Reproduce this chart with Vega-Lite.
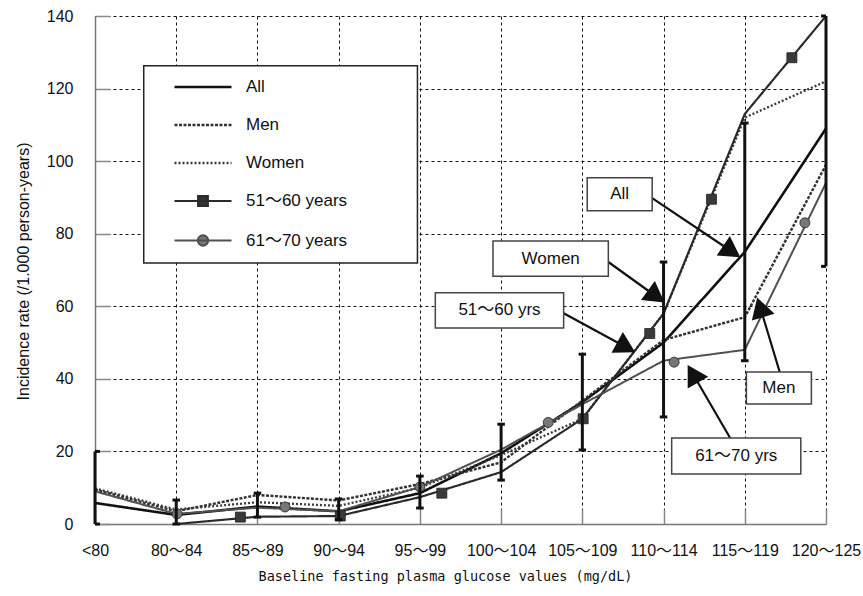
{
  "$schema": "https://vega.github.io/schema/vega-lite/v6.json",
  "width": 731,
  "height": 508,
  "autosize": "none",
  "padding": {"left": 95, "top": 16, "right": 37, "bottom": 72},
  "background": "white",
  "config": {
    "view": {"stroke": null},
    "font": "Liberation Sans",
    "axis": {
      "domainColor": "#777",
      "domainWidth": 1.5,
      "grid": true,
      "gridColor": "#111",
      "gridDash": [3, 3],
      "gridWidth": 1,
      "tickColor": "#888",
      "tickWidth": 1.5,
      "tickSize": -15,
      "labelColor": "#111",
      "labelFont": "Liberation Sans, Noto Sans CJK JP",
      "labelFontSize": 16,
      "titleColor": "#111",
      "titleFontWeight": "normal"
    }
  },
  "datasets": {
    "rates": [
      {"series": "All", "idx": 0, "rate": 5.8},
      {"series": "All", "idx": 1, "rate": 2.5},
      {"series": "All", "idx": 2, "rate": 4.8},
      {"series": "All", "idx": 3, "rate": 3.5},
      {"series": "All", "idx": 4, "rate": 8.5},
      {"series": "All", "idx": 5, "rate": 19.5},
      {"series": "All", "idx": 6, "rate": 33.6},
      {"series": "All", "idx": 7, "rate": 50},
      {"series": "All", "idx": 8, "rate": 75},
      {"series": "All", "idx": 9, "rate": 109},
      {"series": "Men", "idx": 0, "rate": 9.5},
      {"series": "Men", "idx": 1, "rate": 3.5},
      {"series": "Men", "idx": 2, "rate": 8},
      {"series": "Men", "idx": 3, "rate": 6.5},
      {"series": "Men", "idx": 4, "rate": 11},
      {"series": "Men", "idx": 5, "rate": 17},
      {"series": "Men", "idx": 6, "rate": 34},
      {"series": "Men", "idx": 7, "rate": 50.7},
      {"series": "Men", "idx": 8, "rate": 57},
      {"series": "Men", "idx": 9, "rate": 99},
      {"series": "Women", "idx": 0, "rate": 9.8},
      {"series": "Women", "idx": 1, "rate": 4},
      {"series": "Women", "idx": 2, "rate": 6},
      {"series": "Women", "idx": 3, "rate": 5},
      {"series": "Women", "idx": 4, "rate": 10},
      {"series": "Women", "idx": 5, "rate": 19},
      {"series": "Women", "idx": 6, "rate": 29},
      {"series": "Women", "idx": 7, "rate": 58},
      {"series": "Women", "idx": 8, "rate": 112},
      {"series": "Women", "idx": 9, "rate": 122},
      {"series": "51～60 years", "idx": 1, "rate": 0},
      {"series": "51～60 years", "idx": 2, "rate": 2},
      {"series": "51～60 years", "idx": 3, "rate": 2.2},
      {"series": "51～60 years", "idx": 4, "rate": 7.4},
      {"series": "51～60 years", "idx": 5, "rate": 14.3},
      {"series": "51～60 years", "idx": 6, "rate": 29},
      {"series": "51～60 years", "idx": 7, "rate": 58},
      {"series": "51～60 years", "idx": 8, "rate": 113},
      {"series": "51～60 years", "idx": 9, "rate": 140},
      {"series": "61～70 years", "idx": 0, "rate": 9},
      {"series": "61～70 years", "idx": 1, "rate": 2.8},
      {"series": "61～70 years", "idx": 2, "rate": 4.5},
      {"series": "61～70 years", "idx": 3, "rate": 3.5},
      {"series": "61～70 years", "idx": 4, "rate": 10.2},
      {"series": "61～70 years", "idx": 5, "rate": 20.5},
      {"series": "61～70 years", "idx": 6, "rate": 33},
      {"series": "61～70 years", "idx": 7, "rate": 45},
      {"series": "61～70 years", "idx": 8, "rate": 48},
      {"series": "61～70 years", "idx": 9, "rate": 94}
    ],
    "markers": [
      {"series": "51～60 years", "idx": 1.79, "rate": 1.9},
      {"series": "51～60 years", "idx": 3.02, "rate": 2.2},
      {"series": "51～60 years", "idx": 4.27, "rate": 8.5},
      {"series": "51～60 years", "idx": 6.01, "rate": 29},
      {"series": "51～60 years", "idx": 6.83, "rate": 52.5},
      {"series": "51～60 years", "idx": 7.59, "rate": 89.5},
      {"series": "51～60 years", "idx": 8.58, "rate": 128.5},
      {"series": "61～70 years", "idx": 1.01, "rate": 2.8},
      {"series": "61～70 years", "idx": 2.34, "rate": 4.7},
      {"series": "61～70 years", "idx": 4.0, "rate": 10.2},
      {"series": "61～70 years", "idx": 5.58, "rate": 28},
      {"series": "61～70 years", "idx": 7.13, "rate": 44.6},
      {"series": "61～70 years", "idx": 8.74, "rate": 83}
    ],
    "ci": [
      {"idx": 0, "rate": 0, "rate2": 20},
      {"idx": 1, "rate": 0, "rate2": 6.6},
      {"idx": 2, "rate": 1.9, "rate2": 8.5},
      {"idx": 3, "rate": 1.2, "rate2": 6.9},
      {"idx": 4, "rate": 4.4, "rate2": 13.2},
      {"idx": 5, "rate": 12.1, "rate2": 27.5},
      {"idx": 6, "rate": 20.4, "rate2": 46.8},
      {"idx": 7, "rate": 29.5, "rate2": 72.2},
      {"idx": 8, "rate": 45, "rate2": 110.5},
      {"idx": 9, "rate": 71, "rate2": 140}
    ],
    "legendframe": [
      {"idx": 0.6, "idx2": 3.97, "rate": 126.3, "rate2": 71.9}
    ],
    "callouts": [
      {"label": "All", "idx": 6.06, "idx2": 6.86, "rate": 95.4, "rate2": 86.3},
      {"label": "Women", "idx": 4.9, "idx2": 6.32, "rate": 78.0, "rate2": 68.3},
      {"label": "51～60 yrs", "idx": 4.19, "idx2": 5.77, "rate": 63.7, "rate2": 54.0},
      {"label": "Men", "idx": 8.02, "idx2": 8.82, "rate": 41.9, "rate2": 33.1},
      {"label": "61～70 yrs", "idx": 7.1, "idx2": 8.69, "rate": 23.7, "rate2": 13.8}
    ],
    "arrows": [
      {"label": "All", "idx": 6.86, "rate": 89.8, "idx2": 7.84, "rate2": 75.1},
      {"label": "Women", "idx": 6.32, "rate": 72.2, "idx2": 6.91, "rate2": 62.7},
      {"label": "51～60 yrs", "idx": 5.77, "rate": 58.1, "idx2": 6.54, "rate2": 48.7},
      {"label": "Men", "idx": 8.43, "rate": 41.9, "idx2": 8.19, "rate2": 59.7},
      {"label": "61～70 yrs", "idx": 7.82, "rate": 23.7, "idx2": 7.36, "rate2": 41.4}
    ]
  },
  "encoding": {
    "x": {
      "field": "idx",
      "type": "quantitative",
      "scale": {"domain": [0, 9], "nice": false, "zero": false},
      "axis": {
        "values": [0, 1, 2, 3, 4, 5, 6, 7, 8, 9],
        "labelExpr": "['<80','80～84','85～89','90～94','95～99','100～104','105～109','110～114','115～119','120～125'][datum.value]",
        "labelPadding": 33,
        "labelFlush": false,
        "title": "Baseline fasting plasma glucose values (mg/dL)",
        "titleFont": "DejaVu Sans Mono",
        "titleFontSize": 13.5,
        "titleX": 350,
        "titleY": 52,
        "titleBaseline": "middle"
      }
    },
    "y": {
      "field": "rate",
      "type": "quantitative",
      "scale": {"domain": [0, 140], "nice": false},
      "axis": {
        "values": [0, 20, 40, 60, 80, 100, 120, 140],
        "labelPadding": 37,
        "title": "Incidence rate (/1.000 person-years)",
        "titleFont": "Liberation Sans",
        "titleFontSize": 16,
        "titleX": -72,
        "titleY": 255,
        "titleAngle": -90,
        "titleAlign": "center",
        "titleBaseline": "middle"
      }
    }
  },
  "layer": [
    {
      "data": {"name": "legendframe"},
      "mark": {"type": "rect", "fill": "white", "stroke": "#222", "strokeWidth": 1.5},
      "encoding": {
        "x2": {"field": "idx2"},
        "y2": {"field": "rate2"}
      }
    },
    {
      "data": {"name": "rates"},
      "mark": {"type": "line", "strokeCap": "butt"},
      "encoding": {
        "strokeDash": {
          "field": "series",
          "type": "nominal",
          "scale": {
            "domain": ["All", "Men", "Women", "51～60 years", "61～70 years"],
            "range": [[1, 0], [3, 1.5], [2, 2], [1, 0], [1, 0]]
          },
          "legend": {
            "title": null,
            "orient": "none",
            "legendX": 78,
            "legendY": 41,
            "symbolType": "stroke",
            "symbolSize": 3249,
            "symbolStrokeWidth": 2,
            "labelFont": "Liberation Sans, Noto Sans CJK JP",
            "labelFontSize": 17,
            "labelColor": "#111",
            "labelOffset": 13,
            "rowPadding": 0,
            "padding": 0,
            "encode": {
              "symbols": {
                "update": {
                  "shape": {"signal": "datum.value === '51～60 years' ? 'M-1,0H1M-0.17,-0.17H0.17V0.17H-0.17Z' : datum.value === '61～70 years' ? 'M-1,0H1M-0.18,0A0.18,0.18 0 1,0 0.18,0A0.18,0.18 0 1,0 -0.18,0Z' : 'stroke'"},
                  "fill": {"signal": "datum.value === '51～60 years' ? '#333' : datum.value === '61～70 years' ? '#777' : 'transparent'"},
                  "stroke": {"signal": "datum.value === 'All' ? '#111' : datum.value === 'Men' ? '#333' : datum.value === 'Women' ? '#3a3a3a' : '#333'"},
                  "strokeWidth": {"signal": "datum.value === 'All' ? 2.6 : datum.value === 'Women' ? 3 : datum.value === 'Men' ? 2 : 1.6"}
                }
              }
            }
          }
        },
        "color": {
          "field": "series",
          "type": "nominal",
          "scale": {
            "domain": ["All", "Men", "Women", "51～60 years", "61～70 years"],
            "range": ["#111", "#333", "#3a3a3a", "#2a2a2a", "#505050"]
          }
        },
        "strokeWidth": {
          "field": "series",
          "type": "nominal",
          "scale": {
            "domain": ["All", "Men", "Women", "51～60 years", "61～70 years"],
            "range": [2.6, 2, 3, 1.6, 1.6]
          }
        }
      }
    },
    {
      "data": {"name": "markers"},
      "mark": {"type": "point", "filled": true, "opacity": 1, "size": 100, "stroke": "#222", "strokeWidth": 0.8},
      "encoding": {
        "shape": {
          "field": "series",
          "type": "nominal",
          "scale": {"domain": ["51～60 years", "61～70 years"], "range": ["square", "circle"]},
          "legend": null
        },
        "fill": {
          "field": "series",
          "type": "nominal",
          "scale": {"domain": ["51～60 years", "61～70 years"], "range": ["#3a3a3a", "#777"]},
          "legend": null
        }
      }
    },
    {
      "data": {"name": "ci"},
      "mark": {"type": "rule", "stroke": "#111", "strokeWidth": 3},
      "encoding": {
        "y2": {"field": "rate2"}
      }
    },
    {
      "data": {"name": "ci"},
      "transform": [{"fold": ["rate", "rate2"], "as": ["end", "bound"]}],
      "mark": {"type": "point", "filled": false, "opacity": 1, "stroke": "#111", "strokeWidth": 3, "size": 324},
      "encoding": {
        "y": {"field": "bound", "type": "quantitative"},
        "shape": {
          "condition": [
            {"test": "datum.idx == 0", "value": "M0,0H0.55"},
            {"test": "datum.idx == 9", "value": "M-0.55,0H0"}
          ],
          "value": "M-0.42,0H0.42"
        }
      }
    },
    {
      "data": {"name": "arrows"},
      "mark": {"type": "rule", "stroke": "#111", "strokeWidth": 2.2},
      "encoding": {
        "x2": {"field": "idx2"},
        "y2": {"field": "rate2"}
      }
    },
    {
      "data": {"name": "arrows"},
      "transform": [
        {"calculate": "atan2((datum.idx2 - datum.idx) * width / 9, (datum.rate2 - datum.rate) * height / 140) * 180 / PI", "as": "heading"}
      ],
      "mark": {"type": "point", "shape": "triangle-up", "filled": true, "opacity": 1, "fill": "#111", "size": 560},
      "encoding": {
        "x": {"field": "idx2", "type": "quantitative"},
        "y": {"field": "rate2", "type": "quantitative"},
        "angle": {"field": "heading", "type": "quantitative", "scale": null}
      }
    },
    {
      "data": {"name": "callouts"},
      "mark": {"type": "rect", "fill": "white", "stroke": "#444", "strokeWidth": 1.5},
      "encoding": {
        "x2": {"field": "idx2"},
        "y2": {"field": "rate2"}
      }
    },
    {
      "data": {"name": "callouts"},
      "transform": [
        {"calculate": "(datum.idx + datum.idx2) / 2", "as": "cx"},
        {"calculate": "(datum.rate + datum.rate2) / 2", "as": "cy"}
      ],
      "mark": {"type": "text", "font": "Liberation Sans, Noto Sans CJK JP", "fontSize": 17, "fill": "#111", "align": "center", "baseline": "middle"},
      "encoding": {
        "x": {"field": "cx", "type": "quantitative"},
        "y": {"field": "cy", "type": "quantitative"},
        "text": {"field": "label"}
      }
    }
  ]
}
